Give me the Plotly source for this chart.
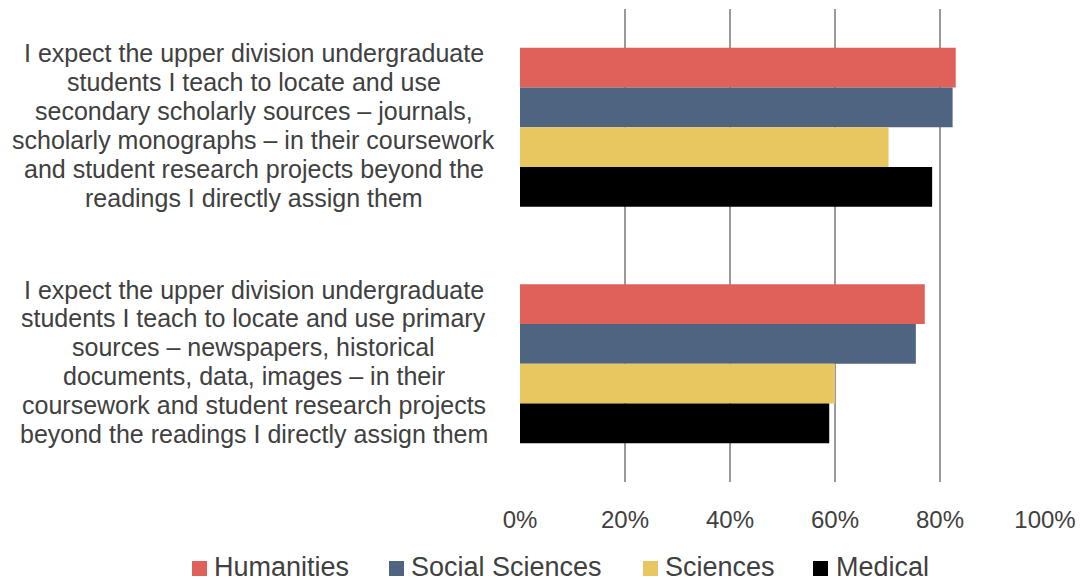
import plotly.graph_objects as go

categories = ["secondary", "primary"]
category_lines = [
    ["I expect the upper division undergraduate",
     "students I teach to locate and use",
     "secondary scholarly sources – journals,",
     "scholarly monographs – in their coursework",
     "and student research projects beyond the",
     "readings I directly assign them"],
    ["I expect the upper division undergraduate",
     "students I teach to locate and use primary",
     "sources – newspapers, historical",
     "documents, data, images – in their",
     "coursework and student research projects",
     "beyond the readings I directly assign them"],
]
series_names = ["Humanities", "Social Sciences", "Sciences", "Medical"]
humanities = [83.0, 77.1]
social_sciences = [82.4, 75.4]
sciences = [70.2, 60.0]
medical = [78.5, 58.9]
series_values = [humanities, social_sciences, sciences, medical]
series_colors = ["#E0605A", "#4F6480", "#E8C660", "#000000"]
tick_values = [0, 20, 40, 60, 80, 100]
tick_labels = [f"{v}%" for v in tick_values]

text_color = "#404040"
FONT = "Liberation Sans, Arial, sans-serif"

W, H = 1080, 582
ML, MR, MT, MB = 520, 35, 9, 100
PW, PH = W - ML - MR, H - MT - MB


def px_to_paper_x(px):
    return (px - ML) / PW


def px_to_paper_y(py):
    return (H - MB - py) / PH


fig = go.Figure()
for name, vals, col in zip(series_names, series_values, series_colors):
    fig.add_trace(go.Bar(
        y=categories, x=vals, name=name, orientation="h",
        marker=dict(color=col, line=dict(width=0)),
        showlegend=False,
    ))

# category labels, one annotation per line (centered block)
line_step = 28.9 / 236.5
label_shift = -2.0 / 236.5
for ci, lines in enumerate(category_lines):
    n = len(lines)
    for k, ln in enumerate(lines):
        fig.add_annotation(
            text=ln, xref="paper", yref="y",
            x=px_to_paper_x(253.5), y=ci + (k - (n - 1) / 2) * line_step + label_shift,
            xanchor="center", yanchor="middle", showarrow=False,
            font=dict(family=FONT, size=25, color=text_color),
        )

# legend drawn as swatches + labels
legend_swatch_x = [192, 389, 643, 813]
legend_text_x = [212, 409, 663, 834]
sw = 15
sy0, sy1 = 561, 576
for name, col, sx, tx in zip(series_names, series_colors, legend_swatch_x, legend_text_x):
    fig.add_shape(
        type="rect", xref="paper", yref="paper",
        x0=px_to_paper_x(sx), x1=px_to_paper_x(sx + sw),
        y0=px_to_paper_y(sy1), y1=px_to_paper_y(sy0),
        fillcolor=col, line=dict(width=0),
    )
    fig.add_annotation(
        text=name, xref="paper", yref="paper",
        x=px_to_paper_x(tx), y=px_to_paper_y(567),
        xanchor="left", yanchor="middle", showarrow=False,
        font=dict(family=FONT, size=27, color=text_color),
    )

fig.update_layout(
    width=W, height=H,
    margin=dict(l=ML, r=MR, t=MT, b=MB, autoexpand=False),
    paper_bgcolor="white", plot_bgcolor="white",
    barmode="group", bargap=0.327, bargroupgap=0,
    font=dict(family=FONT, color=text_color),
    showlegend=False,
    xaxis=dict(
        range=[0, 100], tickmode="array", tickvals=tick_values, ticktext=tick_labels,
        showgrid=True, gridcolor="#999999", gridwidth=2,
        zeroline=False, showline=False, ticks="",
        tickfont=dict(size=24, color=text_color),
        ticklabelstandoff=21, fixedrange=True, automargin=False,
    ),
    yaxis=dict(
        categoryorder="array", categoryarray=categories,
        autorange="reversed", showticklabels=False,
        showgrid=False, zeroline=False, showline=False, ticks="",
        fixedrange=True, automargin=False,
    ),
)

fig.write_html(
    "out.html",
    config={"displayModeBar": False},
    post_script="document.body.style.margin='0';document.body.style.overflow='hidden';",
)
